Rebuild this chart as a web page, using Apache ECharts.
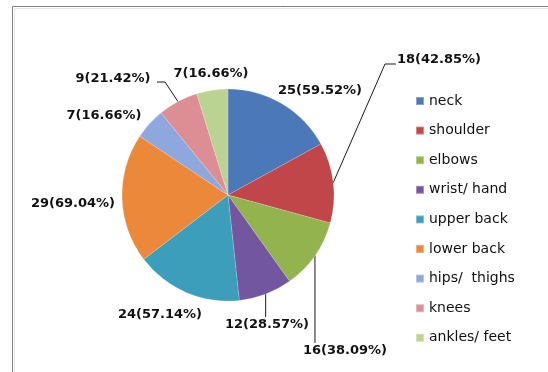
<!DOCTYPE html>
<html>
<head>
<meta charset="utf-8">
<script src="https://cdn.jsdelivr.net/npm/echarts@6/dist/echarts.min.js"></script>
<style>
  html, body { margin: 0; padding: 0; background: #fff; }
  #chart { width: 548px; height: 372px; }
</style>
</head>
<body>
<div id="chart"></div>
<script>
// ---- data ----
const categories = ['neck', 'shoulder', 'elbows', 'wrist/ hand', 'upper back', 'lower back', 'hips/  thighs', 'knees', 'ankles/ feet'];
const counts = [25, 18, 16, 12, 24, 29, 7, 9, 7];
const percents = ['59.52', '42.85', '38.09', '28.57', '57.14', '69.04', '16.66', '21.42', '16.66'];

// ---- styling ----
const colors = ['#4A78B9', '#C0464A', '#93B34E', '#7356A0', '#3C9EBB', '#EC8839', '#8EA7DC', '#DC8E94', '#BBD392'];
const center = [228, 195];
const radius = 106;
// label anchors (text centre) and optional leader bends
const labelAnchors = [
  [320, 91], [439, 60], [345, 351], [267, 325], [160, 315],
  [73, 204], [104, 116], [113, 79], [211, 74]
];
const leaderBends = {
  1: [[385, 64], [396, 64]],
  2: [[null, 343]],
  3: [[null, 317]],
  7: [[165, 82], [157, 82]]
};

const chart = echarts.init(document.getElementById('chart'), null, { renderer: 'canvas' });

const data = categories.map((name, i) => ({
  name: name,
  value: counts[i],
  pct: percents[i],
  itemStyle: { color: colors[i] },
  labelLine: { show: leaderBends[i] !== undefined }
}));

chart.setOption({
  animation: false,
  backgroundColor: '#ffffff',
  graphic: [
    { type: 'line', shape: { x1: 12.5, y1: 6.5, x2: 12.5, y2: 372 }, style: { stroke: '#808080', lineWidth: 1 } },
    { type: 'line', shape: { x1: 12.5, y1: 6.5, x2: 548, y2: 6.5 }, style: { stroke: '#808080', lineWidth: 1 } },
    { type: 'line', shape: { x1: 14.5, y1: 8.5, x2: 14.5, y2: 372 }, style: { stroke: '#e6e6e6', lineWidth: 1 } },
    { type: 'line', shape: { x1: 14.5, y1: 8.5, x2: 548, y2: 8.5 }, style: { stroke: '#e6e6e6', lineWidth: 1 } }
  ],
  legend: {
    orient: 'vertical',
    left: 410,
    top: 88,
    itemWidth: 8,
    itemHeight: 8,
    itemGap: 13.6,
    icon: 'rect',
    data: categories,
    textStyle: { fontFamily: 'DejaVu Sans', fontSize: 14, color: '#111', lineHeight: 16 }
  },
  series: [{
    type: 'pie',
    center: center,
    radius: radius,
    startAngle: 90,
    clockwise: true,
    avoidLabelOverlap: false,
    data: data,
    itemStyle: { borderColor: 'rgba(255,255,255,0.35)', borderWidth: 0.5 },
    label: {
      show: true,
      position: 'outside',
      formatter: p => p.value + '(' + p.data.pct + '%)',
      fontFamily: 'DejaVu Sans',
      fontWeight: 'bold',
      fontSize: 13,
      color: '#111'
    },
    labelLine: { show: true, length: 10, length2: 10, lineStyle: { color: '#1a1a1a', width: 1 } },
    emphasis: { disabled: true },
    labelLayout: function (params) {
      const i = params.dataIndex;
      const a = labelAnchors[i];
      const out = { x: a[0], y: a[1], align: 'center', verticalAlign: 'middle' };
      const bends = leaderBends[i];
      if (bends && params.labelLinePoints) {
        const start = params.labelLinePoints[0];
        const pts = [[start[0], start[1]]];
        bends.forEach(b => pts.push([b[0] === null ? start[0] : b[0], b[1]]));
        out.labelLinePoints = pts;
      }
      return out;
    }
  }]
});
</script>
</body>
</html>
